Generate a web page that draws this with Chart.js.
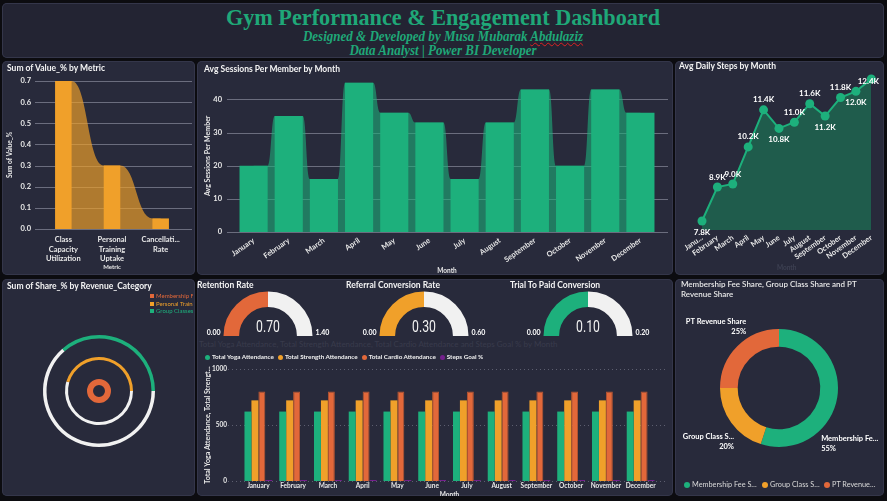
<!DOCTYPE html>
<html>
<head>
<meta charset="utf-8">
<title>Gym Performance &amp; Engagement Dashboard</title>
<script src="https://cdn.jsdelivr.net/npm/chart.js@4.4.1/dist/chart.umd.min.js"></script>
<style>
  body { margin:0; width:887px; height:501px; background:#0c0c10; overflow:hidden; font-family: Lato, "Open Sans", sans-serif; }
  .panel { position:absolute; background:#282a3b; border-radius:5px; box-shadow: inset 0 0 0 1px #34364a; overflow:hidden; }
  .panel canvas { position:absolute; }
  .ttl { position:absolute; color:#f4f4f4; font-weight:700; font-size:8.5px; line-height:10px; white-space:nowrap; }
  #head { left:2px; top:3px; width:882px; height:55px; background:#232433; text-align:center; color:#1fa878; font-family:"Liberation Serif", "DejaVu Serif", serif; }
  #head .h1 { position:absolute; left:0; right:0; top:0px; font-size:24px; line-height:28px; font-weight:bold; transform:scaleX(0.925); }
  #head .h2 { position:absolute; left:0; right:0; font-size:14px; line-height:14px; font-weight:bold; font-style:italic; transform:scaleX(0.93); }
  #head .sp { text-decoration: underline wavy #d22; text-decoration-thickness:1px; }
  .lg { position:absolute; white-space:nowrap; }
  .lg span.it { display:inline-flex; align-items:center; margin-right:4px; }
  .lg i { display:inline-block; margin-right:2px; }
  .lg b { font-weight:inherit; overflow:hidden; text-overflow:ellipsis; display:inline-block; }
</style>
</head>
<body>

<div id="head" class="panel">
  <div class="h1">Gym Performance &amp; Engagement Dashboard</div>
  <div class="h2" style="top:27px">Designed &amp; Developed by Musa Mubarak <span class="sp">Abdulaziz</span></div>
  <div class="h2" style="top:41px">Data Analyst | Power BI Developer</div>
</div>

<div class="panel" style="left:2px;top:61px;width:193px;height:214px">
  <canvas id="c1" width="193" height="214"></canvas>
  <div class="ttl" style="left:5px;top:2px">Sum of Value_% by Metric</div>
</div>

<div class="panel" style="left:197px;top:61px;width:476px;height:214px">
  <canvas id="c2" width="476" height="214"></canvas>
  <div class="ttl" style="left:7px;top:3px">Avg Sessions Per Member by Month</div>
</div>

<div class="panel" style="left:675px;top:61px;width:209px;height:214px">
  <canvas id="c3" width="209" height="214"></canvas>
  <div class="ttl" style="left:4px;top:0px">Avg Daily Steps by Month</div>
</div>

<div class="panel" style="left:2px;top:279px;width:193px;height:217px">
  <canvas id="c4" width="193" height="217"></canvas>
  <div class="ttl" style="left:5px;top:2px">Sum of Share_% by Revenue_Category</div>
  <div class="lg" id="lg4" style="left:148px;top:13px;width:43px;overflow:hidden;font-size:6px;line-height:7.7px"></div>
</div>

<div class="panel" id="p5" style="left:197px;top:279px;width:476px;height:217px">
  <div id="faint" style="position:absolute;left:2px;top:60px;font-size:8px;color:#393b4c;white-space:nowrap"></div>
  <canvas id="c5" width="476" height="150" style="left:0;top:70px"></canvas>
  <div class="lg" id="lg5" style="left:8px;top:74px;font-size:6.3px;line-height:8px;font-weight:700;color:#f0f0f0"></div>
</div>

<div class="panel" style="left:675px;top:279px;width:209px;height:217px">
  <canvas id="c6" width="209" height="217"></canvas>
  <div class="ttl" style="left:6px;top:0px;font-weight:600;color:#e8e8e8;font-size:8px;white-space:normal;width:190px">Membership Fee Share, Group Class Share and PT Revenue Share</div>
  <div class="lg" id="lg6" style="left:9px;top:201px;font-size:7.3px;line-height:9px;color:#d8d8d8"></div>
</div>

<script>
// ---------- data ----------
const metricNames = ['Class Capacity Utilization', 'Personal Training Uptake', 'Cancellation Rate'];
const metricValues = [0.70, 0.30, 0.05];

const months = ['January', 'February', 'March', 'April', 'May', 'June', 'July', 'August', 'September', 'October', 'November', 'December'];
const avgSessions = [20, 35, 16, 45, 36, 33, 16, 33, 43, 20, 43, 36];
const avgSteps = [7800, 8900, 9000, 10200, 11400, 10800, 11000, 11600, 11200, 11800, 12000, 12400];

const revenueCategories = ['Membership Fee', 'Personal Training', 'Group Classes'];
const revenueShares = [55, 25, 20];

const gaugeNames = ['Retention Rate', 'Referral Conversion Rate', 'Trial To Paid Conversion'];
const gaugeValues = [0.70, 0.30, 0.10];
const gaugeMax = [1.40, 0.60, 0.20];

const attendanceSeries = ['Total Yoga Attendance', 'Total Strength Attendance', 'Total Cardio Attendance', 'Steps Goal %'];
const yogaAttendance = [620, 620, 620, 620, 620, 620, 620, 620, 620, 620, 620, 620];
const strengthAttendance = [720, 720, 720, 720, 720, 720, 720, 720, 720, 720, 720, 720];
const cardioAttendance = [800, 800, 800, 800, 800, 800, 800, 800, 800, 800, 800, 800];
const stepsGoalPct = [0.8, 0.8, 0.8, 0.8, 0.8, 0.8, 0.8, 0.8, 0.8, 0.8, 0.8, 0.8];

const shareNames = ['Membership Fee Share', 'Group Class Share', 'PT Revenue Share'];
const shareValues = [55, 20, 25];

// ---------- colours ----------
const GREEN = '#1db07c', ORANGE = '#f0a02a', RED = '#e2683a', PURPLE = '#74208c', TRACK = '#f1f1f1';

Chart.defaults.font.family = 'Lato, "Open Sans", sans-serif';
Chart.defaults.color = '#e8e8e8';
Chart.defaults.animation = false;
Chart.defaults.responsive = false;
Chart.defaults.events = [];
Chart.defaults.plugins.legend.display = false;
Chart.defaults.plugins.tooltip.enabled = false;

const noGrid = { display: false, drawTicks: false };

// power bi style gridlines reaching a bit past the plot
const extGrid = {
  id: 'extGrid',
  beforeDatasetsDraw(chart, args, o) {
    if (!o.color) return;
    const y = chart.scales.y, ca = chart.chartArea, ctx = chart.ctx;
    ctx.save();
    ctx.strokeStyle = o.color;
    ctx.lineWidth = 1;
    ctx.setLineDash(o.dash || []);
    y.ticks.forEach(t => {
      const py = Math.round(y.getPixelForValue(t.value)) + 0.5;
      ctx.beginPath();
      ctx.moveTo(ca.left - (o.left || 0), py);
      ctx.lineTo(ca.right + (o.right || 0), py);
      ctx.stroke();
    });
    ctx.restore();
  }
};

// ribbon between neighbouring bars
const ribbon = {
  id: 'ribbon',
  beforeDatasetsDraw(chart, args, o) {
    if (!o.color) return;
    const bars = chart.getDatasetMeta(0).data;
    const base = chart.scales.y.getPixelForValue(0);
    const ctx = chart.ctx;
    ctx.save();
    ctx.fillStyle = o.color;
    for (let i = 0; i < bars.length - 1; i++) {
      const a = bars[i], b = bars[i + 1];
      const x0 = a.x + a.width / 2, x1 = b.x - b.width / 2, xm = (x0 + x1) / 2;
      ctx.beginPath();
      ctx.moveTo(a.x, base);
      ctx.lineTo(a.x, a.y);
      ctx.lineTo(x0, a.y);
      ctx.bezierCurveTo(xm, a.y, xm, b.y, x1, b.y);
      ctx.lineTo(b.x, b.y);
      ctx.lineTo(b.x, base);
      ctx.closePath();
      ctx.fill();
    }
    ctx.restore();
  }
};

// data labels on the steps line
const pointLabels = {
  id: 'pointLabels',
  afterDatasetsDraw(chart, args, o) {
    const ctx = chart.ctx, pts = chart.getDatasetMeta(0).data, vals = chart.data.datasets[0].data;
    ctx.save();
    ctx.font = 'bold 8px Lato, "Open Sans", sans-serif';
    ctx.fillStyle = '#ffffff';
    ctx.textAlign = 'center';
    ctx.textBaseline = 'middle';
    pts.forEach((p, i) => {
      const txt = (vals[i] / 1000).toFixed(1) + 'K';
      const w = ctx.measureText(txt).width;
      let y = o.below.includes(i) ? p.y + 11 : p.y - 10;
      y = Math.max(y, chart.chartArea.top + 2);
      const x = Math.min(p.x, chart.width - 5 - w / 2);
      ctx.fillText(txt, x, y);
    });
    ctx.restore();
  }
};

// gauge texts
const gaugeText = {
  id: 'gaugeText',
  afterDatasetsDraw(chart, args, o) {
    const arc = chart.getDatasetMeta(0).data[0];
    const ctx = chart.ctx, cx = arc.x, cy = arc.y, r = arc.outerRadius;
    ctx.save();
    ctx.fillStyle = '#f2f2f2';
    ctx.textAlign = 'center';
    ctx.textBaseline = 'middle';
    ctx.font = '400 17px Roboto, sans-serif';
    ctx.save();
    ctx.translate(cx, cy - 8);
    ctx.scale(0.72, 1);
    ctx.fillText(o.value.toFixed(2), 0, 0);
    ctx.restore();
    ctx.font = 'bold 7px Lato, "Open Sans", sans-serif';
    ctx.fillStyle = '#ffffff';
    ctx.textAlign = 'right';
    ctx.fillText((0).toFixed(2), cx - r - 3, cy - 3);
    ctx.textAlign = 'left';
    ctx.fillText(o.max.toFixed(2), cx + r + 3, cy - 3);
    ctx.restore();
  }
};

// outside labels on the share donut
const donutLabels = {
  id: 'donutLabels',
  afterDatasetsDraw(chart, args, o) {
    const ctx = chart.ctx, arcs = chart.getDatasetMeta(0).data;
    const vals = chart.data.datasets[0].data, total = vals.reduce((a, b) => a + b, 0);
    ctx.save();
    ctx.font = 'bold 7.5px Lato, "Open Sans", sans-serif';
    ctx.fillStyle = '#ffffff';
    ctx.textBaseline = 'middle';
    arcs.forEach((a, i) => {
      const ang = o.angles[i] * Math.PI / 180;
      const x = a.x + Math.sin(ang) * o.dist, y = a.y - Math.cos(ang) * o.dist;
      const right = Math.sin(ang) < 0;
      ctx.textAlign = right ? 'right' : 'left';
      const room = right ? x - 4 : chart.width - x - 4;
      let name = chart.data.labels[i];
      if (ctx.measureText(name).width > room) {
        while (name.length && ctx.measureText(name + '...').width > room) name = name.slice(0, -1);
        name += '...';
      }
      ctx.fillText(name, x, y - 5);
      ctx.fillText(Math.round(vals[i] / total * 100) + '%', x, y + 5);
    });
    ctx.restore();
  }
};

function wrapLabel(label) {
  return label.split(' ').reduce((lines, w) => {
    if (w.length > 11) w = w.slice(0, 10) + '...';
    const last = lines[lines.length - 1];
    if (last && (last + ' ' + w).length <= 9) lines[lines.length - 1] = last + ' ' + w;
    else lines.push(w);
    return lines;
  }, []);
}

const tickFont = { size: 7.5, weight: 'bold' };

// ---------- Sum of Value_% by Metric ----------
new Chart(document.getElementById('c1'), {
  type: 'bar',
  data: {
    labels: metricNames,
    datasets: [{ data: metricValues, backgroundColor: ORANGE, barPercentage: 0.34, categoryPercentage: 1 }]
  },
  plugins: [extGrid, ribbon],
  options: {
    layout: { padding: { left: 0, right: 10, top: 20, bottom: 0 } },
    plugins: {
      extGrid: { color: '#6b6d7e', left: 4, right: 7 },
      ribbon: { color: 'rgba(240,160,42,0.68)' }
    },
    scales: {
      x: {
        grid: noGrid, border: { display: false },
        ticks: { autoSkip: false, maxRotation: 0, padding: 6, font: { size: 7.5, weight: 'bold', lineHeight: 1.27 },
          callback: function (v) { return wrapLabel(this.getLabelForValue(v)); } },
        title: { display: true, text: 'Metric', font: { size: 6, weight: 'bold' }, padding: { top: 0, bottom: 4.5 } },
        afterFit: s => { s.height = 46; }
      },
      y: {
        min: 0, max: 0.7,
        grid: noGrid, border: { display: false },
        ticks: { stepSize: 0.1, padding: 8, font: tickFont, callback: v => v.toFixed(1) },
        title: { display: true, text: 'Sum of Value_%', font: { size: 6.5, weight: 'bold' }, padding: { top: 4, bottom: 0 } },
        afterFit: s => { s.width = 37; }
      }
    }
  }
});

// ---------- Avg Sessions Per Member by Month ----------
new Chart(document.getElementById('c2'), {
  type: 'bar',
  data: {
    labels: months,
    datasets: [{ data: avgSessions, backgroundColor: GREEN, barPercentage: 0.8, categoryPercentage: 1 }]
  },
  plugins: [extGrid, ribbon],
  options: {
    layout: { padding: { left: 0, right: 15, top: 16, bottom: 0 } },
    plugins: {
      extGrid: { color: '#6b6d7e', left: 9, right: 10 },
      ribbon: { color: 'rgba(29,176,124,0.6)' }
    },
    scales: {
      x: {
        grid: noGrid, border: { display: false },
        ticks: { autoSkip: false, minRotation: 35, maxRotation: 35, padding: 4, font: tickFont },
        title: { display: true, text: 'Month', font: { size: 6.5, weight: 'bold' }, padding: { top: 0, bottom: 0 } },
        afterFit: s => { s.height = 43; }
      },
      y: {
        min: 0, max: 46,
        grid: noGrid, border: { display: false },
        ticks: { stepSize: 10, includeBounds: false, padding: 14, font: tickFont },
        title: { display: true, text: 'Avg Sessions Per Member', font: { size: 7, weight: 'bold' }, padding: { top: 6.8, bottom: 0 } },
        afterFit: s => { s.width = 39; }
      }
    }
  }
});

// ---------- Avg Daily Steps by Month ----------
new Chart(document.getElementById('c3'), {
  type: 'line',
  data: {
    labels: months,
    datasets: [{
      data: avgSteps, borderColor: GREEN, borderWidth: 2, backgroundColor: '#1f5c4c', fill: 'start',
      pointRadius: 4.5, pointBackgroundColor: GREEN, pointBorderWidth: 0, tension: 0, clip: false
    }]
  },
  plugins: [pointLabels],
  options: {
    layout: { padding: { left: 27, right: 12.7, top: 18, bottom: 0 } },
    plugins: { pointLabels: { below: [0, 5, 8, 10] } },
    scales: {
      x: {
        offset: false, grid: noGrid, border: { display: false },
        ticks: { autoSkip: false, minRotation: 35, maxRotation: 35, padding: 3, font: tickFont,
          callback: function (v, i) { const l = this.getLabelForValue(v); return i === 0 ? l.slice(0, 4) + '...' : l; } },
        title: { display: true, text: 'Month', color: '#3d4052', font: { size: 6.5, weight: 'bold' }, padding: { top: 0, bottom: 3 } },
        afterFit: s => { s.height = 44.75; }
      },
      y: { display: false, min: 7500, max: 12400 }
    }
  }
});

// ---------- Sum of Share_% by Revenue_Category (concentric rings) ----------
const shareMax = Math.max(...revenueShares);
const ringColors = [RED, ORANGE, GREEN];
const ringWeights = [6, 3, 3.5];
const ringSets = [];
for (let i = revenueShares.length - 1; i >= 0; i--) {
  ringSets.push({ data: [shareMax - revenueShares[i], revenueShares[i]], backgroundColor: [TRACK, ringColors[i]], weight: ringWeights[i], borderWidth: 0 });
  if (i > 0) ringSets.push({ data: [1], backgroundColor: ['rgba(0,0,0,0)'], weight: i === 1 ? 19 : 18.5, borderWidth: 0 });
}
new Chart(document.getElementById('c4'), {
  type: 'doughnut',
  data: { labels: ['rest', 'share'], datasets: ringSets },
  options: {
    rotation: 90,
    cutout: '10.7%',
    layout: { padding: { left: 41, right: 40, top: 56, bottom: 49 } }
  }
});
document.getElementById('lg4').innerHTML = revenueCategories.map((c, i) =>
  '<div style="color:' + ringColors[i] + '"><i style="width:4px;height:4px;background:' + ringColors[i] + '"></i>' + c + '</div>').join('');

// ---------- gauges ----------
const gaugeColors = [RED, ORANGE, GREEN];
const gaugeCenters = [71, 227, 391];
const p5 = document.getElementById('p5');
gaugeNames.forEach((name, i) => {
  const t = document.createElement('div');
  t.className = 'ttl';
  t.style.left = [0, 149, 313][i] + 'px';
  t.style.top = '1px';
  t.textContent = name;
  p5.appendChild(t);

  const cv = document.createElement('canvas');
  cv.width = 150; cv.height = 70;
  cv.style.left = (gaugeCenters[i] - 75) + 'px';
  cv.style.top = (57 - 52) + 'px';
  p5.appendChild(cv);
  new Chart(cv, {
    type: 'doughnut',
    data: {
      labels: ['value', 'rest'],
      datasets: [{ data: [gaugeValues[i], gaugeMax[i] - gaugeValues[i]], backgroundColor: [gaugeColors[i], TRACK], borderWidth: 0 }]
    },
    plugins: [gaugeText],
    options: {
      rotation: -90, circumference: 180, cutout: '65%',
      layout: { padding: { left: 30.5, right: 30.5, top: 7.5, bottom: 18 } },
      plugins: { gaugeText: { value: gaugeValues[i], max: gaugeMax[i] } }
    }
  });
});

// ---------- attendance by month ----------
const attColors = [GREEN, ORANGE, RED, PURPLE];
document.getElementById('faint').textContent =
  attendanceSeries.slice(0, 3).join(', ') + ' and ' + attendanceSeries[3] + ' by Month';
document.getElementById('lg5').innerHTML = attendanceSeries.map((s, i) =>
  '<span class="it"><i style="width:5px;height:5px;border-radius:50%;background:' + attColors[i] + '"></i>' + s + '</span>').join('');
let attTitle = attendanceSeries.slice(0, 3).join(', ');
attTitle = attTitle.slice(0, 36) + '...';
new Chart(document.getElementById('c5'), {
  type: 'bar',
  data: {
    labels: months,
    datasets: [
      { label: attendanceSeries[0], data: yogaAttendance, backgroundColor: attColors[0] },
      { label: attendanceSeries[1], data: strengthAttendance, backgroundColor: attColors[1] },
      { label: attendanceSeries[2], data: cardioAttendance, backgroundColor: attColors[2], borderColor: '#b85530', borderWidth: { top: 1, left: 1, right: 1, bottom: 0 } },
      { label: attendanceSeries[3], data: stepsGoalPct, backgroundColor: attColors[3], minBarLength: 1 }
    ]
  },
  plugins: [extGrid],
  options: {
    datasets: { bar: { categoryPercentage: 0.8, barPercentage: 1 } },
    layout: { padding: { left: 0, right: 15, top: 20, bottom: 0 } },
    plugins: { extGrid: { color: '#5d5f70', dash: [1, 3], left: 13, right: 10 } },
    scales: {
      x: {
        grid: noGrid, border: { display: false },
        ticks: { autoSkip: false, maxRotation: 0, padding: 1, font: { size: 6.5, weight: 'bold' } },
        title: { display: true, text: 'Month', font: { size: 6.5, weight: 'bold' }, padding: { top: 0, bottom: 0 } },
        afterFit: s => { s.height = 18; }
      },
      y: {
        min: 0, max: 1000,
        grid: noGrid, border: { display: false },
        ticks: { stepSize: 500, padding: 14, font: { size: 6.5, weight: 'bold' }, callback: v => String(v) },
        title: { display: true, text: attTitle, font: { size: 7, weight: 'bold' }, padding: { top: 6.8, bottom: 0 } },
        afterFit: s => { s.width = 44; }
      }
    }
  }
});

// ---------- share donut ----------
const shareColors = [GREEN, ORANGE, RED];
new Chart(document.getElementById('c6'), {
  type: 'doughnut',
  data: { labels: shareNames, datasets: [{ data: shareValues, backgroundColor: shareColors, borderWidth: 0 }] },
  plugins: [donutLabels],
  options: {
    cutout: '70%',
    layout: { padding: { left: 45, right: 46, top: 50, bottom: 49 } },
    plugins: { donutLabels: { angles: [143, 220, 332], dist: 70 } }
  }
});
document.getElementById('lg6').innerHTML = shareNames.map((s, i) =>
  '<span class="it"><i style="width:6px;height:6px;border-radius:50%;background:' + shareColors[i] + '"></i><b style="max-width:' + [66, 50, 45][i] + 'px">' + s + '</b></span>').join('');
</script>
</body>
</html>
